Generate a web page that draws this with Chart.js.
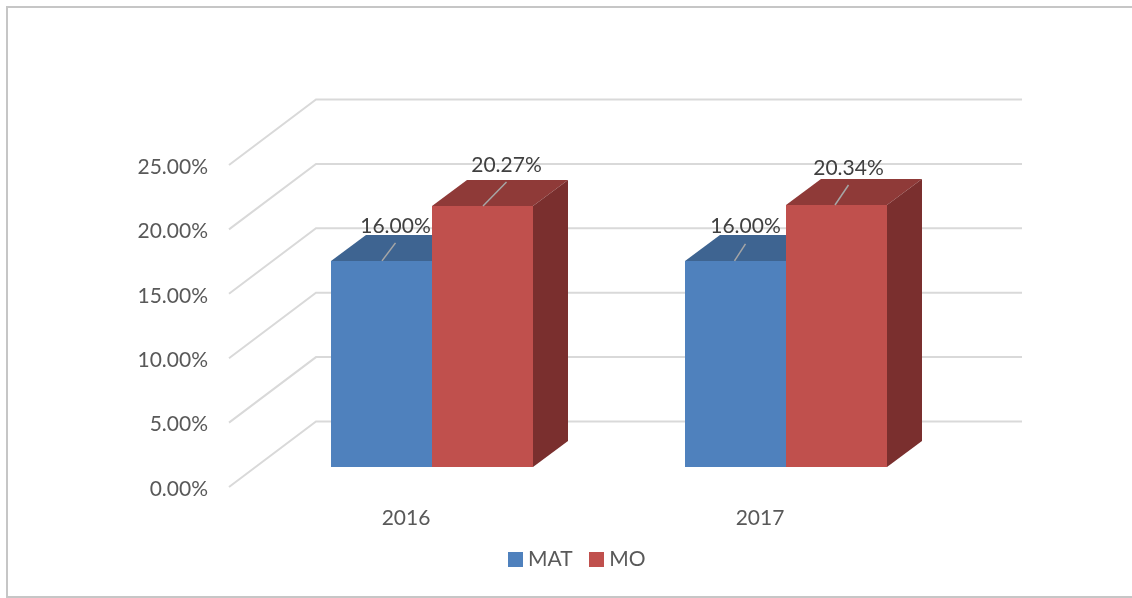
<!DOCTYPE html>
<html>
<head>
<meta charset="utf-8">
<style>
    html, body { margin: 0; padding: 0; background: #fff; overflow: hidden; }
    #wrap { position: relative; width: 1132px; height: 598px; }
    #frame { position: absolute; left: 6px; top: 6px; right: 0; bottom: 0; border: 2px solid #c6c6c6; border-right: 0; }
</style>
<script src="https://cdn.jsdelivr.net/npm/chart.js@4/dist/chart.umd.min.js"></script>
</head>
<body>
<div id="wrap">
    <div id="frame"></div>
    <canvas id="chart" width="1132" height="598" style="position:absolute;left:0;top:0"></canvas>
</div>
<script>
    var categories = ['2016', '2017'];
    var matValues = [16.00, 16.00];
    var moValues = [20.27, 20.34];
    var yTicks = [0, 5, 10, 15, 20, 25];

    // pseudo 3D offsets, in px from the plane the bars stand on
    var barDepth = { x: 35, y: -26 };
    var wall = { left: 316, right: 1022, dy: -45.5 };
    var floor = { x: 229, dy: 20 };

    // where each value label and its leader line sit, relative to the bar top centre
    var labelPlacement = [
        [{ x: 14, y: -35, lx: 0.5, ly: 0, ex: 14, ey: -18 }, { x: 10, y: -35, lx: -1, ly: 0, ex: 10, ey: -17 }],
        [{ x: 24, y: -41, lx: 0.5, ly: 0, ex: 24, ey: -24 }, { x: 12, y: -37, lx: -1.5, ly: 0, ex: 12, ey: -20 }]
    ];

    var seriesColors = ['#4f81bd', '#c0504d'];
    var faces = [
        { top: '#3e6491', side: '#3b5f8a' },
        { top: '#8f3a38', side: '#7a2f2e' }
    ];

    // legend box as an image, Chart.js leaves too wide a gap before the text otherwise
    function swatch(color) {
        var c = document.createElement('canvas');
        c.width = 15;
        c.height = 15;
        var g = c.getContext('2d');
        g.fillStyle = color;
        g.fillRect(0, 0, 15, 15);
        return c;
    }

    var fakeDepth = {
        id: 'fakeDepth',
        beforeDatasetsDraw: function (chart) {
            var ctx = chart.ctx;
            var y = chart.scales.y;

            ctx.save();
            ctx.strokeStyle = '#d9d9d9';
            ctx.lineWidth = 2;
            yTicks.forEach(function (v) {
                var py = y.getPixelForValue(v);
                ctx.beginPath();
                ctx.moveTo(floor.x, py + floor.dy);
                ctx.lineTo(wall.left, py + wall.dy);
                ctx.lineTo(wall.right, py + wall.dy);
                ctx.stroke();
            });

            chart.data.datasets.forEach(function (ds, i) {
                chart.getDatasetMeta(i).data.forEach(function (bar) {
                    var l = bar.x - bar.width / 2, r = bar.x + bar.width / 2;

                    ctx.fillStyle = faces[i].top;
                    ctx.beginPath();
                    ctx.moveTo(l, bar.y);
                    ctx.lineTo(l + barDepth.x, bar.y + barDepth.y);
                    ctx.lineTo(r + barDepth.x, bar.y + barDepth.y);
                    ctx.lineTo(r, bar.y);
                    ctx.closePath();
                    ctx.fill();

                    ctx.fillStyle = faces[i].side;
                    ctx.beginPath();
                    ctx.moveTo(r, bar.y);
                    ctx.lineTo(r + barDepth.x, bar.y + barDepth.y);
                    ctx.lineTo(r + barDepth.x, bar.base + barDepth.y);
                    ctx.lineTo(r, bar.base);
                    ctx.closePath();
                    ctx.fill();
                });
            });
            ctx.restore();
        },
        afterDatasetsDraw: function (chart) {
            var ctx = chart.ctx;

            ctx.save();
            chart.data.datasets.forEach(function (ds, i) {
                chart.getDatasetMeta(i).data.forEach(function (bar, j) {
                    var p = labelPlacement[i][j];

                    ctx.strokeStyle = '#a6a6a6';
                    ctx.lineWidth = 1.5;
                    ctx.beginPath();
                    ctx.moveTo(bar.x + p.lx, bar.y + p.ly);
                    ctx.lineTo(bar.x + p.ex, bar.y + p.ey);
                    ctx.stroke();

                    ctx.fillStyle = '#404040';
                    ctx.font = '21px Lato';
                    ctx.textAlign = 'center';
                    ctx.textBaseline = 'middle';
                    ctx.fillText(ds.data[j].toFixed(2) + '%', bar.x + p.x, bar.y + p.y);
                });
            });
            ctx.restore();
        }
    };

    new Chart(document.getElementById('chart'), {
        type: 'bar',
        data: {
            labels: categories,
            datasets: [
                { label: 'MAT', data: matValues, backgroundColor: seriesColors[0] },
                { label: 'MO', data: moValues, backgroundColor: seriesColors[1] }
            ]
        },
        plugins: [fakeDepth],
        options: {
            responsive: false,
            animation: false,
            layout: { padding: { left: 26, right: 0, top: 145, bottom: 18 } },
            datasets: { bar: { barPercentage: 1, categoryPercentage: 0.5706 } },
            scales: {
                x: {
                    grid: { display: false },
                    border: { display: false },
                    ticks: {
                        font: { family: 'Lato', size: 21 },
                        color: '#595959',
                        labelOffset: -26,
                        padding: 31,
                        maxRotation: 0
                    },
                    afterFit: function (scale) { scale.height = 61; }
                },
                y: {
                    min: 0,
                    max: 25,
                    grid: { display: false },
                    border: { display: false },
                    afterBuildTicks: function (scale) {
                        scale.ticks = yTicks.map(function (v) { return { value: v }; });
                    },
                    ticks: {
                        font: { family: 'Lato', size: 21 },
                        color: '#595959',
                        labelOffset: 22,
                        padding: 39,
                        callback: function (v) { return v.toFixed(2) + '%'; }
                    },
                    afterFit: function (scale) { scale.width = 229; }
                },
                // empty axis, only holds the room right of the plot
                spacer: {
                    position: 'right',
                    min: 0,
                    max: 25,
                    grid: { display: false },
                    border: { display: false },
                    ticks: { display: false },
                    afterFit: function (scale) { scale.width = 169; }
                }
            },
            plugins: {
                title: { display: false },
                tooltip: { enabled: false },
                legend: {
                    position: 'bottom',
                    labels: {
                        usePointStyle: true,
                        pointStyleWidth: 5,
                        padding: 21,
                        color: '#595959',
                        font: { family: 'Lato', size: 21 },
                        generateLabels: function (chart) {
                            var items = Chart.defaults.plugins.legend.labels.generateLabels(chart);
                            items.forEach(function (item, i) {
                                item.pointStyle = swatch(seriesColors[i]);
                            });
                            return items;
                        }
                    }
                }
            }
        }
    });
</script>
</body>
</html>
